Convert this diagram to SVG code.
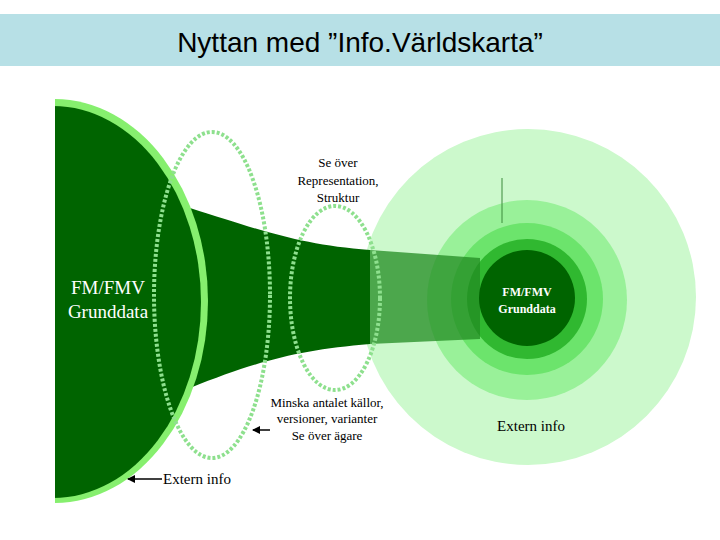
<svg xmlns="http://www.w3.org/2000/svg" width="720" height="540" viewBox="0 0 720 540">
<style>
.dot{fill:none;stroke:#8ee08e;stroke-width:4;stroke-dasharray:3 2}
</style>
<defs><marker id="ah" markerWidth="8" markerHeight="8" refX="7" refY="4" orient="auto" markerUnits="userSpaceOnUse"><path d="M0,0L8,4L0,8z" fill="#000"/></marker></defs>
<rect width="720" height="540" fill="#fff"/>
<rect x="0" y="14" width="720" height="52" fill="#b7e0e6"/>
<text x="360" y="52" text-anchor="middle" font-family="Liberation Sans, Arial, sans-serif" font-size="28" fill="#000">Nyttan med ”Info.Världskarta”</text>
<g id="right">
<circle cx="528" cy="297" r="168" fill="#ccf9cc"/>
<circle cx="527" cy="300" r="100" fill="#99f199"/>
<circle cx="527" cy="299" r="76" fill="#6ce46c"/>
<circle cx="527" cy="299" r="60" fill="#30b830"/>
<line x1="502" y1="178" x2="502" y2="223" stroke="#3a8a3a" stroke-width="1"/>
</g>
<g id="funnel">
<path d="M190,208 C260,230 300,245 370,250 L370,344 C300,350 260,360 190,388 Z" fill="#006400"/>
<path d="M370,250 L480,258 L480,339 L370,344 Z" fill="#228b22" opacity="0.75"/>
</g>
<g id="center">
<circle cx="527" cy="298" r="48" fill="#006400"/>
</g>
<g id="left">
<ellipse cx="55" cy="301" rx="153" ry="202" fill="#86ef6e"/>
<ellipse cx="53" cy="302" rx="148" ry="196" fill="#006400"/>
<rect x="0" y="95" width="55" height="415" fill="#fff"/>
<text x="108" y="294" text-anchor="middle" font-family="Liberation Serif, serif" font-size="19" fill="#fff">FM/FMV</text>
<text x="108" y="318" text-anchor="middle" font-family="Liberation Serif, serif" font-size="19" fill="#fff">Grunddata</text>
</g>
<g id="ellipses">
<ellipse class="dot" cx="212" cy="295" rx="58" ry="163"/>
<ellipse class="dot" cx="335" cy="298" rx="45" ry="92"/>
</g>
<g id="labels">
<text x="338" y="167" font-family="Liberation Serif, serif" font-size="13" text-anchor="middle" fill="#000">Se över</text>
<text x="338" y="185" font-family="Liberation Serif, serif" font-size="13" text-anchor="middle" fill="#000">Representation,</text>
<text x="338" y="202" font-family="Liberation Serif, serif" font-size="13" text-anchor="middle" fill="#000">Struktur</text>
<text x="327" y="407" font-family="Liberation Serif, serif" font-size="13" text-anchor="middle" fill="#000">Minska antalet källor,</text>
<text x="327" y="423" font-family="Liberation Serif, serif" font-size="13" text-anchor="middle" fill="#000">versioner, varianter</text>
<text x="327" y="440" font-family="Liberation Serif, serif" font-size="13" text-anchor="middle" fill="#000">Se över ägare</text>
<text x="163" y="484" font-family="Liberation Serif, serif" font-size="15" fill="#000">Extern info</text>
<text x="531" y="431" font-family="Liberation Serif, serif" font-size="15" text-anchor="middle" fill="#000">Extern info</text>
<text x="527" y="296" font-family="Liberation Serif, serif" text-anchor="middle" font-weight="bold" font-size="12" fill="#fff">FM/FMV</text>
<text x="527" y="313" font-family="Liberation Serif, serif" text-anchor="middle" font-weight="bold" font-size="12" fill="#fff">Grunddata</text>
</g>
<g id="connectors" stroke="#000" stroke-width="1.5">
<line x1="270" y1="430" x2="253" y2="430" marker-end="url(#ah)"/>
<line x1="162" y1="479" x2="128" y2="479" marker-end="url(#ah)"/>
</g>
</svg>
